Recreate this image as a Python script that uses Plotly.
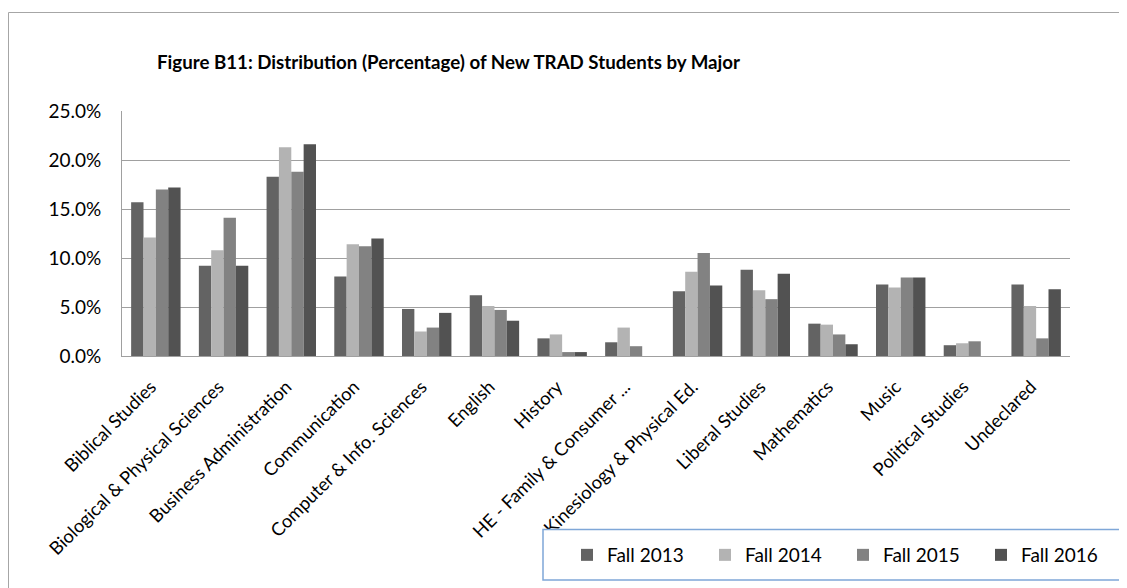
import plotly.graph_objects as go

categories = ["Biblical Studies", "Biological & Physical Sciences", "Business Administration",
              "Communication", "Computer & Info. Sciences", "English", "History",
              "HE - Family & Consumer ...", "Kinesiology & Physical Ed.", "Liberal Studies",
              "Mathematics", "Music", "Political Studies", "Undeclared"]
fall_2013 = [15.7, 9.2, 18.3, 8.1, 4.8, 6.2, 1.8, 1.4, 6.6, 8.8, 3.3, 7.3, 1.1, 7.3]
fall_2014 = [12.1, 10.8, 21.3, 11.4, 2.5, 5.1, 2.2, 2.9, 8.6, 6.7, 3.2, 7.0, 1.3, 5.1]
fall_2015 = [17.0, 14.1, 18.8, 11.2, 2.9, 4.7, 0.4, 1.0, 10.5, 5.8, 2.2, 8.0, 1.5, 1.8]
fall_2016 = [17.2, 9.2, 21.6, 12.0, 4.4, 3.6, 0.4, 0.0, 7.2, 8.4, 1.2, 8.0, 0.0, 6.8]
series_names = ["Fall 2013", "Fall 2014", "Fall 2015", "Fall 2016"]
colors = ["#636363", "#b3b3b3", "#828282", "#525252"]
y_ticks = [0, 5, 10, 15, 20, 25]

# page body has an 8px margin; work in reference-pixel coordinates and shift
OFF = 8
W, H = 1127 - OFF, 588 - OFF
L, R, T, B = 122 - OFF, 1070 - OFF, 111 - OFF, 356 - OFF
pw, ph = R - L, B - T

def px(xr):
    return ((xr - OFF) - L) / pw

def py(yr):
    return (B - (yr - OFF)) / ph

fig = go.Figure()
for name, vals, c in zip(series_names, [fall_2013, fall_2014, fall_2015, fall_2016], colors):
    fig.add_trace(go.Bar(x=categories, y=vals, name=name, marker_color=c,
                         marker_line_width=0))

FONT = "Lato, Carlito, Calibri, sans-serif"
fig.update_layout(
    width=W, height=H,
    margin=dict(l=L, r=W - R, t=T, b=H - B, autoexpand=False),
    paper_bgcolor="white", plot_bgcolor="white",
    barmode="group", bargap=0.27, bargroupgap=0.0,
    font=dict(family=FONT, size=18, color="#000000"),
    title=dict(text="<b>Figure B11: Distribution (Percentage) of New TRAD Students by Major</b>",
               x=(157 - OFF) / W, xanchor="left", y=1 - (62 - OFF) / H, yanchor="middle",
               font=dict(family=FONT, size=18.7, color="#000000")),
    showlegend=True,
    legend=dict(orientation="h", x=px(567), xanchor="left", y=py(555), yanchor="middle",
                bgcolor="rgba(0,0,0,0)", borderwidth=0, entrywidth=93, entrywidthmode="pixels",
                font=dict(family=FONT, size=19, color="#000000"), itemsizing="constant",
                traceorder="normal"),
    xaxis=dict(tickangle=-45, showgrid=False, showline=True, linecolor="#a0a0a0", linewidth=1,
               ticks="", tickfont=dict(size=18.3), range=[-0.5, 13.5],
               ticklabelstandoff=12, ticklabelshift=-5),
    yaxis=dict(range=[0, 25], tickvals=y_ticks, ticktext=[f"{v:.1f}%" for v in y_ticks],
               showgrid=True, gridcolor="#a0a0a0", gridwidth=1, showline=True,
               linecolor="#a0a0a0", linewidth=1, ticks="", zeroline=False,
               tickfont=dict(size=19), ticklabelstandoff=16),
    shapes=[
        dict(type="rect", xref="paper", yref="paper", x0=px(8.5), x1=px(1145), y0=py(610), y1=py(12.5),
             line=dict(color="#a6a6a6", width=1), fillcolor="rgba(0,0,0,0)", layer="below"),
        dict(type="rect", xref="paper", yref="paper", x0=px(543), x1=px(1145), y0=py(580), y1=py(529.5),
             line=dict(color="#7fa7d8", width=1.5), fillcolor="white", layer="above"),
    ],
)

fig.write_html("out.html")
